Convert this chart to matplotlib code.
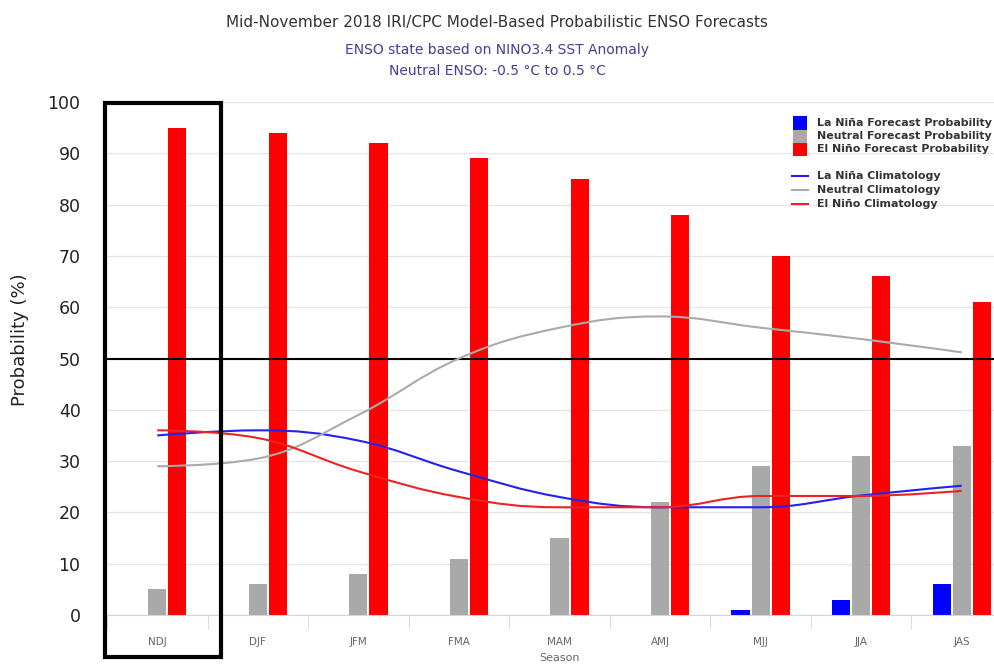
import matplotlib

matplotlib.use("Agg")
import matplotlib.pyplot as plt
import numpy as np
from matplotlib.lines import Line2D
from matplotlib.patches import PathPatch, Rectangle
from matplotlib.path import Path

seasons = ["NDJ", "DJF", "JFM", "FMA", "MAM", "AMJ", "MJJ", "JJA", "JAS"]
la_nina_prob = [0, 0, 0, 0, 0, 0, 1, 3, 6]
neutral_prob = [5, 6, 8, 11, 15, 22, 29, 31, 33]
el_nino_prob = [95, 94, 92, 89, 85, 78, 70, 66, 61]
la_nina_clim = [35, 36, 34, 28, 23, 21, 21, 23.3, 25.2]
neutral_clim = [29, 30.5, 39, 50, 56, 58.2, 56, 53.8, 51.2]
el_nino_clim = [36, 34.5, 28, 23, 21, 21, 23.2, 23.2, 24.2]

BLUE = "#0000ff"
GREY = "#a9a9a9"
RED = "#ff0000"


def spline_path(xs, ys, smoothing=1.5):
    """Highcharts-style spline drawn as cubic bezier segments through the points."""
    n = len(xs)
    left = [(xs[i], ys[i]) for i in range(n)]
    right = [(xs[i], ys[i]) for i in range(n)]
    d = smoothing + 1
    for i in range(1, n - 1):
        px, py = xs[i], ys[i]
        lx, ly = xs[i - 1], ys[i - 1]
        nx, ny = xs[i + 1], ys[i + 1]
        lcx = (smoothing * px + lx) / d
        lcy = (smoothing * py + ly) / d
        rcx = (smoothing * px + nx) / d
        rcy = (smoothing * py + ny) / d
        if rcx != lcx:
            corr = (rcy - lcy) * (rcx - px) / (rcx - lcx) + py - rcy
            lcy += corr
            rcy += corr
        if lcy > ly and lcy > py:
            lcy = max(ly, py)
            rcy = 2 * py - lcy
        elif lcy < ly and lcy < py:
            lcy = min(ly, py)
            rcy = 2 * py - lcy
        if rcy > ny and rcy > py:
            rcy = max(ny, py)
            lcy = 2 * py - rcy
        elif rcy < ny and rcy < py:
            rcy = min(ny, py)
            lcy = 2 * py - rcy
        left[i] = (lcx, lcy)
        right[i] = (rcx, rcy)
    verts = [(xs[0], ys[0])]
    codes = [Path.MOVETO]
    for i in range(1, n):
        verts += [right[i - 1], left[i], (xs[i], ys[i])]
        codes += [Path.CURVE4] * 3
    return Path(verts, codes)


fig = plt.figure(figsize=(9.95, 6.64), dpi=100)
ax = fig.add_axes([107 / 995, 49 / 664, 905 / 995, 513 / 664])

x = np.arange(len(seasons))
w = 0.18
ax.bar(x - 0.2, la_nina_prob, w, color=BLUE, zorder=2)
ax.bar(x, neutral_prob, w, color=GREY, zorder=2)
ax.bar(x + 0.2, el_nino_prob, w, color=RED, zorder=2)

for vals, col in [(la_nina_clim, "#2222ee"), (neutral_clim, "#aaaaaa"), (el_nino_clim, "#ee2222")]:
    ax.add_patch(PathPatch(spline_path(list(x), vals), fill=False, edgecolor=col, lw=1.5, zorder=3))

ax.axhline(50, color="black", lw=1.5, zorder=2.5)

ax.set_xlim(-0.5, len(seasons) - 0.5)
ax.set_ylim(0, 100)
ax.set_yticks(range(0, 101, 10))
ax.yaxis.grid(True, color="#e6e6e6", lw=1)
ax.set_axisbelow(True)
for s in ["top", "right", "left"]:
    ax.spines[s].set_visible(False)
ax.spines["bottom"].set_color("#ccd6eb")
ax.tick_params(axis="y", length=0, labelsize=12.5, pad=19, labelcolor="#222222")
ax.set_xticks(x)
ax.set_xticklabels(seasons, color="#666666", fontsize=7.5)
ax.set_xticks(np.arange(-0.5, len(seasons)), minor=True)
ax.tick_params(axis="x", which="major", length=0, pad=16)
ax.tick_params(axis="x", which="minor", length=10, color="#ccd6eb")
ax.set_xlabel("Season", color="#666666", fontsize=8, labelpad=4)
ax.set_ylabel("Probability (%)", fontsize=13, color="#222222")
ax.yaxis.set_label_coords(-0.086, 0.536)

# highlight box around current season
ax.add_patch(Rectangle((-0.52, -8.2), 1.15, 108.0, fill=False, edgecolor="black",
                       lw=3, clip_on=False, zorder=5))

fig.text(0.5, 1 - 22 / 664, "Mid-November 2018 IRI/CPC Model-Based Probabilistic ENSO Forecasts",
         ha="center", va="center", fontsize=11, color="#333333")
fig.text(0.5, 1 - 50 / 664, "ENSO state based on NINO3.4 SST Anomaly",
         ha="center", va="center", fontsize=10, color="#4b3c96")
fig.text(0.5, 1 - 71 / 664, "Neutral ENSO: -0.5 °C to 0.5 °C",
         ha="center", va="center", fontsize=10, color="#4b3c96")


# legend
def fy(py):
    return 1 - py / 664


for py, col, lab in [(123, BLUE, "La Niña Forecast Probability"),
                     (136, GREY, "Neutral Forecast Probability"),
                     (149, RED, "El Niño Forecast Probability")]:
    fig.add_artist(Rectangle((793 / 995, fy(py + 6.5)), 14 / 995, 13 / 664,
                             facecolor=col, edgecolor="none", transform=fig.transFigure))
    fig.text(817 / 995, fy(py), lab, ha="left", va="center", fontsize=7.9,
             fontweight="bold", color="#333333")
for py, col, lab in [(176, "#2222ee", "La Niña Climatology"),
                     (190, "#aaaaaa", "Neutral Climatology"),
                     (204, "#ee2222", "El Niño Climatology")]:
    fig.add_artist(Line2D([792 / 995, 808 / 995], [fy(py), fy(py)], color=col, lw=1.5,
                          transform=fig.transFigure))
    fig.text(817 / 995, fy(py), lab, ha="left", va="center", fontsize=7.9,
             fontweight="bold", color="#333333")

fig.savefig("out.png", dpi=100)
